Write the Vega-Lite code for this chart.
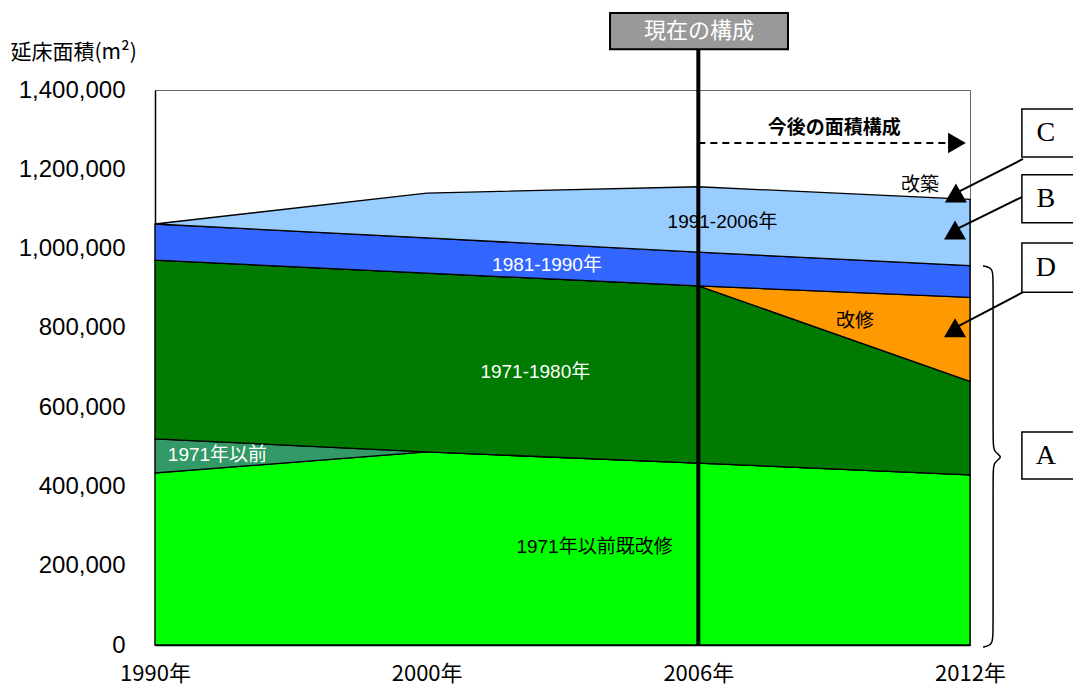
{
  "$schema": "https://vega.github.io/schema/vega-lite/v6.json",
  "autosize": "none",
  "width": 815,
  "height": 555,
  "padding": {"left": 155, "top": 90, "right": 103, "bottom": 43},
  "background": "white",
  "config": {
    "view": {"stroke": "#666666", "strokeWidth": 1},
    "font": "Liberation Sans, Noto Sans CJK JP",
    "axis": {"grid": false, "ticks": false, "domainColor": "black", "domainWidth": 1.5, "labelColor": "black"}
  },
  "datasets": {
    "floor": [
      {"t": 0, "cat": "1971年以前既改修", "o": 1, "v": 434000},
      {"t": 1, "cat": "1971年以前既改修", "o": 1, "v": 487000},
      {"t": 2, "cat": "1971年以前既改修", "o": 1, "v": 459000},
      {"t": 3, "cat": "1971年以前既改修", "o": 1, "v": 429000},
      {"t": 0, "cat": "1971年以前", "o": 2, "v": 86000},
      {"t": 1, "cat": "1971年以前", "o": 2, "v": 0},
      {"t": 2, "cat": "1971年以前", "o": 2, "v": 0},
      {"t": 3, "cat": "1971年以前", "o": 2, "v": 0},
      {"t": 0, "cat": "1971-1980年", "o": 3, "v": 451000},
      {"t": 1, "cat": "1971-1980年", "o": 3, "v": 451000},
      {"t": 2, "cat": "1971-1980年", "o": 3, "v": 447000},
      {"t": 3, "cat": "1971-1980年", "o": 3, "v": 236000},
      {"t": 0, "cat": "改修", "o": 4, "v": 0},
      {"t": 1, "cat": "改修", "o": 4, "v": 0},
      {"t": 2, "cat": "改修", "o": 4, "v": 0},
      {"t": 3, "cat": "改修", "o": 4, "v": 212000},
      {"t": 0, "cat": "1981-1990年", "o": 5, "v": 91000},
      {"t": 1, "cat": "1981-1990年", "o": 5, "v": 89000},
      {"t": 2, "cat": "1981-1990年", "o": 5, "v": 85000},
      {"t": 3, "cat": "1981-1990年", "o": 5, "v": 80000},
      {"t": 0, "cat": "1991-2006年", "o": 6, "v": 0},
      {"t": 1, "cat": "1991-2006年", "o": 6, "v": 113000},
      {"t": 2, "cat": "1991-2006年", "o": 6, "v": 165000},
      {"t": 3, "cat": "1991-2006年", "o": 6, "v": 167000}
    ],
    "whiteLabels": [
      {"x": 0.23, "y": 479000, "label": "1971年以前"},
      {"x": 1.40, "y": 689000, "label": "1971-1980年"},
      {"x": 1.443, "y": 959000, "label": "1981-1990年"}
    ],
    "blackLabels": [
      {"x": 1.618, "y": 247000, "label": "1971年以前既改修"},
      {"x": 2.089, "y": 1067000, "label": "1991-2006年"},
      {"x": 2.577, "y": 817000, "label": "改修"},
      {"x": 2.816, "y": 1160000, "label": "改築"}
    ],
    "boxes": [
      {"key": "C", "x": 3.191, "x2": 3.386, "y": 1352000, "y2": 1231000, "ly": 1292000},
      {"key": "B", "x": 3.191, "x2": 3.386, "y": 1186000, "y2": 1065000, "ly": 1125000},
      {"key": "D", "x": 3.191, "x2": 3.386, "y": 1014000, "y2": 890000, "ly": 952000},
      {"key": "A", "x": 3.191, "x2": 3.386, "y": 537000, "y2": 419000, "ly": 478000}
    ],
    "pointers": [
      {"key": "C", "x": 3.195, "y": 1226000, "x2": 2.948, "y2": 1140000},
      {"key": "B", "x": 3.191, "y": 1130000, "x2": 2.945, "y2": 1047000},
      {"key": "D", "x": 3.195, "y": 890000, "x2": 2.945, "y2": 800000}
    ],
    "brace": [
      {"i": 0, "x": 3.048, "y": 956000},
      {"i": 1, "x": 3.085, "y": 951000},
      {"i": 2, "x": 3.085, "y": 921000},
      {"i": 3, "x": 3.085, "y": 517000},
      {"i": 4, "x": 3.085, "y": 487000},
      {"i": 5, "x": 3.125, "y": 474000},
      {"i": 6, "x": 3.085, "y": 462000},
      {"i": 7, "x": 3.085, "y": 431000},
      {"i": 8, "x": 3.085, "y": 38000},
      {"i": 9, "x": 3.085, "y": 0},
      {"i": 10, "x": 3.048, "y": -5000}
    ]
  },
  "layer": [
    {
      "data": {"name": "floor"},
      "mark": {"type": "area", "stroke": "black", "strokeWidth": 1.3, "opacity": 1},
      "encoding": {
        "x": {
          "field": "t", "type": "quantitative",
          "scale": {"domain": [0, 3], "nice": false, "zero": false},
          "axis": {
            "title": null, "values": [0, 1, 2, 3],
            "labelExpr": "['1990年','2000年','2006年','2012年'][datum.value]",
            "labelFont": "Liberation Sans Narrow, Noto Sans CJK JP",
            "labelFontSize": 22, "labelPadding": 18, "labelFlush": false
          }
        },
        "y": {
          "field": "v", "type": "quantitative", "stack": "zero",
          "scale": {"domain": [0, 1400000], "nice": false},
          "axis": {
            "values": [0, 200000, 400000, 600000, 800000, 1000000, 1200000, 1400000],
            "format": ",d", "labelFontSize": 24, "labelPadding": 30, "labelFont": "Liberation Sans",
            "title": "延床面積(m²)", "titleAngle": 0, "titleAlign": "left", "titleBaseline": "middle",
            "titleX": -145, "titleY": -38, "titleFontSize": 21, "titleFontWeight": "normal",
            "titleFont": "Noto Sans CJK JP"
          }
        },
        "color": {
          "field": "cat", "type": "nominal", "legend": null,
          "scale": {
            "domain": ["1971年以前既改修", "1971年以前", "1971-1980年", "改修", "1981-1990年", "1991-2006年"],
            "range": ["#00FF00", "#339966", "#007A00", "#FF9900", "#3366FF", "#99CCFF"]
          }
        },
        "order": {"field": "o", "type": "quantitative"}
      }
    },
    {
      "data": {"name": "whiteLabels"},
      "mark": {"type": "text", "color": "white", "fontSize": 19, "font": "Liberation Sans, Noto Sans CJK JP"},
      "encoding": {
        "x": {"field": "x", "type": "quantitative"},
        "y": {"field": "y", "type": "quantitative"},
        "text": {"field": "label"}
      }
    },
    {
      "data": {"name": "blackLabels"},
      "mark": {"type": "text", "color": "black", "fontSize": 19, "font": "Liberation Sans, Noto Sans CJK JP"},
      "encoding": {
        "x": {"field": "x", "type": "quantitative"},
        "y": {"field": "y", "type": "quantitative"},
        "text": {"field": "label"}
      }
    },
    {
      "data": {"values": [{"x": 2, "y": 0, "y2": 1503000}]},
      "mark": {"type": "rule", "color": "black", "strokeWidth": 4},
      "encoding": {
        "x": {"field": "x", "type": "quantitative"},
        "y": {"field": "y", "type": "quantitative"},
        "y2": {"field": "y2"}
      }
    },
    {
      "data": {"values": [{"x": 1.675, "x2": 2.33, "y": 1594000, "y2": 1503000, "cx": 2.002, "cy": 1549000, "label": "現在の構成"}]},
      "layer": [
        {
          "mark": {"type": "rect", "fill": "#999999", "stroke": "black", "strokeWidth": 2},
          "encoding": {
            "x": {"field": "x", "type": "quantitative"},
            "x2": {"field": "x2"},
            "y": {"field": "y", "type": "quantitative"},
            "y2": {"field": "y2"}
          }
        },
        {
          "mark": {"type": "text", "color": "white", "fontSize": 22, "font": "Noto Sans CJK JP"},
          "encoding": {
            "x": {"field": "cx", "type": "quantitative"},
            "y": {"field": "cy", "type": "quantitative"},
            "text": {"field": "label"}
          }
        }
      ]
    },
    {
      "data": {"values": [{"x": 2.0, "x2": 2.926, "y": 1266000, "tx": 2.952, "label": "今後の面積構成", "lx": 2.5, "ly": 1305000}]},
      "layer": [
        {
          "mark": {"type": "rule", "color": "black", "strokeWidth": 2, "strokeDash": [7, 5]},
          "encoding": {
            "x": {"field": "x", "type": "quantitative"},
            "x2": {"field": "x2"},
            "y": {"field": "y", "type": "quantitative"}
          }
        },
        {
          "mark": {"type": "point", "shape": "triangle-right", "filled": true, "color": "black", "opacity": 1, "size": 420},
          "encoding": {
            "x": {"field": "tx", "type": "quantitative"},
            "y": {"field": "y", "type": "quantitative"}
          }
        },
        {
          "mark": {"type": "text", "color": "black", "fontSize": 19, "fontWeight": "bold", "font": "Noto Sans CJK JP"},
          "encoding": {
            "x": {"field": "lx", "type": "quantitative"},
            "y": {"field": "ly", "type": "quantitative"},
            "text": {"field": "label"}
          }
        }
      ]
    },
    {
      "data": {"name": "pointers"},
      "layer": [
        {
          "mark": {"type": "rule", "color": "black", "strokeWidth": 2},
          "encoding": {
            "x": {"field": "x", "type": "quantitative"},
            "x2": {"field": "x2"},
            "y": {"field": "y", "type": "quantitative"},
            "y2": {"field": "y2"}
          }
        },
        {
          "mark": {"type": "point", "shape": "triangle-up", "filled": true, "color": "black", "opacity": 1, "size": 480},
          "encoding": {
            "x": {"field": "x2", "type": "quantitative"},
            "y": {"field": "y2", "type": "quantitative"}
          }
        }
      ]
    },
    {
      "data": {"name": "boxes"},
      "layer": [
        {
          "mark": {"type": "rect", "fill": "white", "stroke": "black", "strokeWidth": 1.5},
          "encoding": {
            "x": {"field": "x", "type": "quantitative"},
            "x2": {"field": "x2"},
            "y": {"field": "y", "type": "quantitative"},
            "y2": {"field": "y2"}
          }
        },
        {
          "mark": {"type": "text", "color": "black", "fontSize": 28, "font": "Liberation Serif", "align": "center", "dx": -1},
          "encoding": {
            "x": {"datum": 3.283, "type": "quantitative"},
            "y": {"field": "ly", "type": "quantitative"},
            "text": {"field": "key"}
          }
        }
      ]
    },
    {
      "data": {"name": "brace"},
      "mark": {"type": "line", "color": "black", "strokeWidth": 1.5, "interpolate": "basis"},
      "encoding": {
        "x": {"field": "x", "type": "quantitative"},
        "y": {"field": "y", "type": "quantitative"},
        "order": {"field": "i", "type": "quantitative"}
      }
    }
  ]
}
